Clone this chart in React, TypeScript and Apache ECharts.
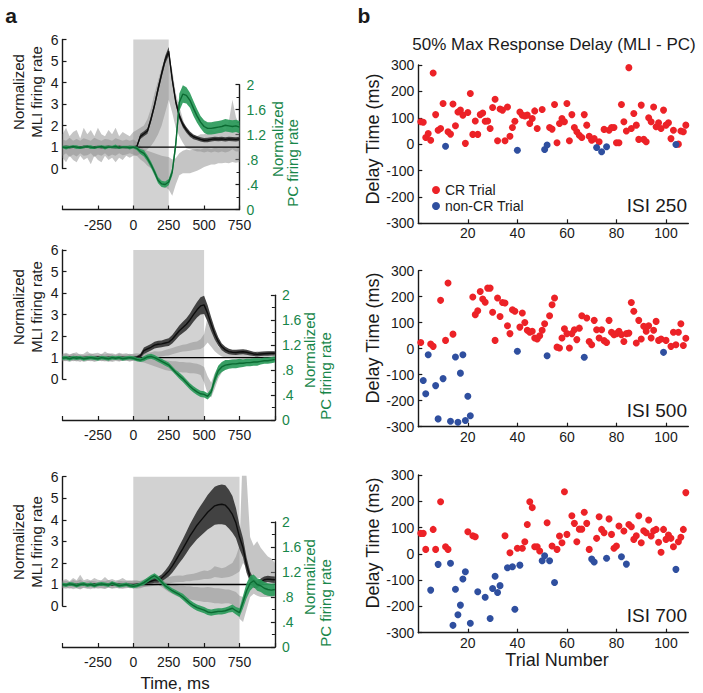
import React, { useEffect, useRef } from "react";
import * as echarts from "echarts";

// ---------------- time bases (ms) ----------------
const T_TOP = [-500,-475,-450,-425,-400,-375,-350,-325,-300,-275,-250,-225,-200,-175,-150,-125,-100,-75,-50,-25,0,25,50,75,100,125,150,175,200,225,250,275,300,325,350,375,400,425,450,475,500,525,550,575,600,625,650,675,700,725,750];
const T_LONG = [-500,-475,-450,-425,-400,-375,-350,-325,-300,-275,-250,-225,-200,-175,-150,-125,-100,-75,-50,-25,0,25,50,75,100,125,150,175,200,225,250,275,300,325,350,375,400,425,450,475,500,525,550,575,600,625,650,675,700,725,750,775,800,825,850,875,900,925,950,975,1000];

// ---------------- ISI 250 (top) ----------------
const TOP_MLI_CR = [1.00,1.02,0.99,1.01,1.00,0.98,1.01,1.02,0.99,1.00,1.01,0.99,1.00,1.02,1.00,0.99,1.01,1.00,0.99,1.01,1.00,1.03,1.50,1.62,1.75,2.30,2.95,3.70,4.40,5.05,5.45,4.15,3.10,2.45,2.05,1.80,1.60,1.48,1.42,1.36,1.32,1.33,1.36,1.38,1.37,1.38,1.36,1.38,1.37,1.36,1.38];
const TOP_MLI_SEM = [0.05,0.05,0.06,0.05,0.05,0.05,0.06,0.05,0.05,0.05,0.05,0.06,0.05,0.05,0.05,0.05,0.06,0.05,0.05,0.05,0.05,0.06,0.12,0.12,0.13,0.14,0.15,0.16,0.17,0.18,0.2,0.18,0.16,0.15,0.14,0.13,0.12,0.11,0.1,0.1,0.1,0.1,0.1,0.1,0.1,0.1,0.1,0.1,0.1,0.1,0.1];
const TOP_PC_CR = [1.00,0.99,1.00,1.01,1.00,0.99,1.00,1.01,1.00,0.99,1.00,1.01,0.99,1.00,1.00,1.01,0.99,1.00,1.00,0.99,1.00,0.98,0.93,0.90,0.82,0.72,0.60,0.47,0.41,0.40,0.44,0.60,1.05,1.72,1.85,1.83,1.75,1.62,1.50,1.40,1.33,1.30,1.30,1.31,1.32,1.33,1.35,1.34,1.33,1.34,1.32];
const TOP_PC_SEM = [0.02,0.03,0.02,0.02,0.03,0.02,0.02,0.02,0.03,0.02,0.02,0.02,0.03,0.02,0.02,0.03,0.02,0.02,0.02,0.03,0.02,0.03,0.04,0.05,0.05,0.05,0.05,0.05,0.05,0.05,0.05,0.06,0.1,0.14,0.14,0.13,0.12,0.12,0.11,0.1,0.1,0.1,0.1,0.1,0.1,0.1,0.1,0.1,0.1,0.1,0.1];
const TOP_MLI_NON_LO = [0.5,0.3,0.6,0.4,0.3,0.6,0.4,0.5,0.2,0.6,0.4,0.3,0.6,0.4,0.5,0.3,0.5,0.4,0.6,0.5,0.6,0.6,0.7,0.8,0.9,1.05,1.3,1.6,2.0,2.6,3.2,2.6,1.9,1.5,1.2,0.95,0.9,0.85,0.8,0.8,0.75,0.8,0.75,0.8,0.75,0.8,0.75,0.8,0.9,0.8,0.8];
const TOP_MLI_NON_HI = [1.6,1.9,1.5,1.7,1.8,1.4,1.9,1.6,1.8,1.5,1.9,1.6,1.5,1.8,1.6,1.9,1.5,1.7,1.6,1.5,1.7,1.8,1.9,2.0,2.3,2.8,3.5,4.1,4.7,5.1,5.3,4.6,3.5,2.9,2.3,1.8,1.6,1.5,1.5,1.6,1.6,1.7,1.8,1.7,1.8,1.9,1.8,2.2,3.2,2.4,2.0];
const TOP_PC_NON_LO = [0.86,0.9,0.84,0.88,0.85,0.9,0.86,0.87,0.9,0.84,0.88,0.86,0.9,0.85,0.88,0.86,0.9,0.87,0.88,0.9,0.88,0.86,0.8,0.76,0.7,0.66,0.6,0.52,0.42,0.36,0.32,0.22,0.4,0.55,0.58,0.58,0.58,0.6,0.62,0.65,0.68,0.7,0.72,0.72,0.74,0.74,0.75,0.74,0.76,0.75,0.76];
const TOP_PC_NON_HI = [1.12,1.1,1.15,1.1,1.13,1.1,1.14,1.12,1.1,1.15,1.12,1.1,1.13,1.12,1.1,1.14,1.12,1.1,1.12,1.1,1.12,1.08,1.02,0.96,0.94,0.92,0.9,0.88,0.86,0.85,0.84,0.8,0.82,0.9,0.94,0.96,0.95,0.96,0.97,0.96,0.98,0.98,0.97,0.99,0.98,0.98,0.99,0.98,0.99,0.98,0.99];

// ---------------- ISI 500 (middle) ----------------
const MID_MLI_CR = [1.0,0.99,1.01,1.0,1.02,0.98,1.0,1.01,0.99,1.0,1.02,1.0,0.99,1.01,1.0,0.98,1.0,1.01,1.0,0.99,1.0,1.02,1.08,1.32,1.40,1.48,1.58,1.62,1.64,1.68,1.72,1.85,2.05,2.25,2.40,2.55,2.75,3.00,3.22,3.40,3.45,3.05,2.55,2.10,1.75,1.50,1.36,1.28,1.25,1.24,1.26,1.27,1.25,1.21,1.17,1.15,1.17,1.18,1.19,1.20,1.20];
const MID_MLI_SEM = [0.04,0.04,0.05,0.04,0.04,0.04,0.05,0.04,0.04,0.04,0.04,0.05,0.04,0.04,0.04,0.04,0.05,0.04,0.04,0.04,0.04,0.05,0.1,0.15,0.15,0.15,0.16,0.16,0.16,0.17,0.18,0.2,0.22,0.24,0.26,0.28,0.3,0.33,0.36,0.4,0.42,0.38,0.32,0.26,0.2,0.16,0.14,0.13,0.12,0.12,0.12,0.12,0.12,0.11,0.1,0.1,0.1,0.1,0.1,0.1,0.1];
const MID_PC_CR = [0.99,1.0,0.98,1.0,0.99,1.0,0.98,0.99,1.0,0.99,0.98,1.0,0.99,0.98,1.0,0.99,1.0,0.98,0.99,1.0,0.99,0.97,0.96,0.98,1.01,1.02,1.0,0.97,0.94,0.91,0.88,0.82,0.76,0.71,0.66,0.60,0.54,0.49,0.45,0.42,0.41,0.38,0.45,0.65,0.79,0.85,0.88,0.89,0.9,0.9,0.91,0.91,0.92,0.92,0.93,0.93,0.94,0.95,0.95,0.96,0.97];
const MID_PC_SEM = [0.03,0.03,0.03,0.03,0.03,0.03,0.03,0.03,0.03,0.03,0.03,0.03,0.03,0.03,0.03,0.03,0.03,0.03,0.03,0.03,0.03,0.03,0.03,0.04,0.04,0.04,0.04,0.04,0.04,0.04,0.04,0.04,0.04,0.05,0.05,0.05,0.05,0.05,0.05,0.05,0.05,0.05,0.06,0.08,0.08,0.08,0.08,0.07,0.07,0.07,0.07,0.06,0.06,0.06,0.06,0.06,0.05,0.05,0.05,0.05,0.05];
const MID_MLI_NON_LO = [0.82,0.85,0.8,0.86,0.82,0.88,0.8,0.84,0.86,0.8,0.84,0.85,0.82,0.86,0.8,0.84,0.82,0.86,0.85,0.82,0.85,0.88,0.9,0.92,0.95,0.98,1.0,1.02,1.05,1.08,1.1,1.15,1.2,1.25,1.28,1.3,1.32,1.35,1.38,1.4,1.5,1.7,1.5,1.3,1.15,1.05,1.0,1.0,0.98,1.0,0.98,1.0,0.98,1.0,0.98,1.0,0.98,1.0,0.98,1.0,0.98];
const MID_MLI_NON_HI = [1.18,1.22,1.15,1.2,1.25,1.12,1.18,1.3,1.15,1.2,1.22,1.16,1.28,1.18,1.2,1.15,1.22,1.18,1.2,1.15,1.18,1.2,1.18,1.2,1.22,1.25,1.3,1.28,1.3,1.35,1.4,1.45,1.5,1.55,1.6,1.62,1.68,1.72,1.75,1.85,2.1,2.9,2.5,1.9,1.5,1.35,1.3,1.32,1.3,1.28,1.3,1.32,1.3,1.28,1.25,1.3,1.28,1.3,1.28,1.3,1.28];
const MID_PC_NON_LO = [0.95,0.94,0.96,0.94,0.95,0.93,0.96,0.95,0.94,0.95,0.96,0.94,0.95,0.93,0.95,0.96,0.94,0.95,0.95,0.94,0.95,0.94,0.93,0.92,0.9,0.88,0.86,0.84,0.82,0.8,0.79,0.78,0.77,0.77,0.76,0.76,0.75,0.75,0.74,0.72,0.6,0.42,0.36,0.5,0.66,0.76,0.82,0.85,0.87,0.88,0.89,0.9,0.9,0.91,0.91,0.92,0.92,0.92,0.93,0.93,0.93];
const MID_PC_NON_HI = [1.05,1.06,1.04,1.07,1.05,1.06,1.04,1.05,1.07,1.05,1.04,1.06,1.05,1.07,1.05,1.04,1.06,1.05,1.05,1.06,1.05,1.04,1.03,1.02,1.01,1.0,0.99,0.98,0.97,0.96,0.95,0.94,0.94,0.93,0.93,0.92,0.92,0.91,0.9,0.88,0.85,0.7,0.6,0.75,0.86,0.92,0.95,0.96,0.97,0.98,0.98,0.99,0.99,0.99,1.0,1.0,1.0,1.0,1.0,1.0,1.0];

// ---------------- ISI 750 (bottom) ----------------
const BOT_MLI_CR = [1.0,0.98,1.01,1.0,0.99,1.02,1.0,0.98,1.0,1.01,0.99,1.0,1.02,1.0,0.99,1.01,1.0,0.98,1.0,0.99,0.98,1.0,1.02,1.05,1.1,1.15,1.2,1.22,1.3,1.45,1.62,1.85,2.12,2.4,2.66,2.95,3.25,3.5,3.75,3.95,4.15,4.35,4.5,4.65,4.7,4.72,4.68,4.5,4.25,3.85,3.2,2.7,1.9,1.35,1.05,1.0,1.12,1.22,1.25,1.23,1.22];
const BOT_MLI_SEM = [0.04,0.04,0.05,0.04,0.04,0.04,0.05,0.04,0.04,0.04,0.04,0.05,0.04,0.04,0.04,0.04,0.05,0.04,0.04,0.04,0.04,0.04,0.05,0.06,0.08,0.1,0.12,0.14,0.16,0.2,0.25,0.3,0.35,0.4,0.45,0.5,0.55,0.6,0.65,0.7,0.75,0.8,0.85,0.88,0.9,0.92,0.92,0.9,0.85,0.7,0.55,0.45,0.35,0.25,0.2,0.18,0.16,0.15,0.15,0.15,0.15];
const BOT_PC_CR = [1.0,0.99,1.01,1.0,0.98,1.0,1.01,0.99,1.0,0.98,1.0,1.01,1.0,0.99,1.02,1.0,0.98,0.99,1.0,0.98,0.97,0.98,1.0,1.03,1.07,1.11,1.14,1.1,1.04,0.98,0.94,0.9,0.87,0.84,0.8,0.75,0.7,0.66,0.63,0.61,0.59,0.56,0.55,0.56,0.57,0.57,0.58,0.6,0.62,0.58,0.55,0.72,0.9,1.02,1.06,1.0,0.98,0.94,0.92,0.91,0.92];
const BOT_PC_SEM = [0.03,0.03,0.03,0.03,0.03,0.03,0.03,0.03,0.03,0.03,0.03,0.03,0.03,0.03,0.03,0.03,0.03,0.03,0.03,0.03,0.03,0.03,0.03,0.04,0.04,0.04,0.04,0.04,0.04,0.04,0.04,0.04,0.04,0.04,0.05,0.05,0.05,0.05,0.05,0.05,0.05,0.05,0.05,0.05,0.05,0.05,0.05,0.05,0.06,0.06,0.07,0.1,0.12,0.12,0.1,0.1,0.1,0.1,0.1,0.1,0.1];
const BOT_MLI_NON_LO = [0.82,0.8,0.85,0.78,0.82,0.8,0.84,0.8,0.78,0.85,0.8,0.82,0.8,0.85,0.8,0.82,0.85,0.8,0.82,0.85,0.82,0.85,0.86,0.88,0.9,0.92,0.95,0.98,1.0,1.02,1.05,1.08,1.1,1.12,1.12,1.15,1.15,1.18,1.2,1.22,1.25,1.25,1.28,1.35,1.32,1.3,1.32,1.35,1.4,1.5,1.6,2.0,1.8,1.3,1.2,1.3,1.3,1.25,1.2,1.2,1.15];
const BOT_MLI_NON_HI = [1.2,1.25,1.15,1.3,1.2,1.45,1.2,1.25,1.18,1.3,1.22,1.2,1.35,1.2,1.25,1.18,1.22,1.3,1.2,1.18,1.2,1.2,1.15,1.18,1.22,1.25,1.3,1.32,1.3,1.32,1.35,1.38,1.4,1.42,1.4,1.45,1.48,1.5,1.55,1.6,1.65,1.62,1.7,1.85,1.8,1.75,1.8,1.9,2.0,2.3,2.8,7.5,6.0,3.2,2.8,3.0,2.7,2.5,2.3,2.2,2.0];
const BOT_PC_NON_LO = [0.94,0.95,0.93,0.95,0.94,0.92,0.95,0.94,0.95,0.93,0.95,0.94,0.93,0.95,0.94,0.95,0.93,0.94,0.95,0.94,0.94,0.93,0.94,0.96,0.98,1.0,1.02,1.0,0.96,0.92,0.88,0.85,0.82,0.8,0.78,0.77,0.76,0.75,0.74,0.73,0.72,0.72,0.71,0.7,0.7,0.69,0.7,0.7,0.68,0.62,0.45,0.4,0.6,0.8,0.85,0.82,0.8,0.8,0.8,0.8,0.8];
const BOT_PC_NON_HI = [1.05,1.06,1.04,1.07,1.05,1.08,1.04,1.05,1.06,1.05,1.04,1.06,1.05,1.07,1.05,1.04,1.06,1.05,1.05,1.06,1.05,1.05,1.06,1.08,1.1,1.12,1.14,1.12,1.08,1.04,1.02,1.0,0.99,0.98,0.98,0.97,0.97,0.96,0.96,0.95,0.95,0.96,0.95,0.94,0.94,0.93,0.92,0.92,0.9,0.88,0.82,0.8,0.9,1.0,1.02,1.0,0.98,0.98,0.97,0.97,0.97];

// ---------------- scatter: [trial, delay ms] ----------------
const CR_250 = [[1,85],[2,83],[3,25],[4,40],[5,15],[6,270],[7,112],[8,53],[9,59],[10,154],[12,47],[13,38],[14,152],[15,70],[16,122],[17,129],[18,110],[19,3],[20,120],[21,192],[22,37],[23,88],[24,37],[25,112],[26,118],[27,87],[28,88],[29,59],[30,139],[31,170],[32,13],[33,133],[34,129],[35,13],[36,141],[37,30],[38,63],[39,87],[41,122],[42,110],[43,107],[44,110],[45,78],[46,97],[47,126],[48,59],[50,131],[53,63],[54,57],[55,150],[56,5],[57,78],[58,97],[59,85],[60,154],[61,13],[62,112],[63,63],[64,47],[65,34],[66,25],[67,112],[68,72],[69,30],[70,15],[71,21],[73,9],[75,56],[77,53],[78,63],[79,63],[80,5],[81,5],[82,150],[83,85],[84,50],[85,290],[86,59],[87,116],[88,72],[89,18],[90,148],[91,18],[92,9],[93,100],[94,85],[95,141],[96,66],[97,81],[98,59],[99,129],[100,72],[101,81],[102,21],[103,53],[105,0],[106,50],[107,47],[108,72]];
const NON_250 = [[11,-8],[40,-23],[51,-20],[52,-3],[72,-13],[74,-29],[76,-10],[104,-1]];
const CR_500 = [[1,24],[5,18],[6,9],[9,186],[11,32],[12,253],[14,56],[22,199],[23,131],[24,146],[25,220],[26,191],[27,179],[28,233],[29,233],[30,140],[31,32],[32,195],[33,124],[34,178],[35,176],[36,88],[37,58],[38,150],[39,144],[41,83],[42,137],[43,101],[44,71],[45,63],[46,67],[47,41],[48,37],[49,50],[50,71],[51,96],[53,127],[54,169],[55,195],[56,6],[57,3],[58,41],[59,77],[60,58],[61,3],[62,58],[63,73],[64,35],[65,79],[66,127],[68,118],[69,28],[70,15],[71,109],[72,73],[73,41],[74,73],[75,31],[76,24],[77,109],[78,63],[79,54],[80,58],[81,67],[82,54],[83,28],[84,58],[85,60],[86,178],[87,144],[88,22],[89,109],[90,37],[91,86],[92,67],[93,88],[94,41],[95,71],[96,105],[97,32],[98,37],[100,32],[102,9],[103,63],[104,15],[105,63],[106,96],[107,12],[108,40]];
const NON_500 = [[2,-122],[3,-173],[4,-23],[7,-142],[8,-270],[10,-115],[13,-279],[15,-32],[16,-283],[17,-94],[18,-23],[19,-276],[20,-183],[21,-258],[40,-10],[52,-27],[67,-33],[99,-14]];
const CR_700 = [[1,78],[2,78],[3,17],[6,93],[7,17],[9,198],[11,27],[12,17],[20,84],[22,69],[23,65],[35,69],[37,4],[40,21],[42,21],[43,46],[44,112],[45,198],[46,176],[47,27],[48,27],[49,11],[52,118],[54,30],[56,17],[57,68],[58,42],[59,236],[60,74],[62,145],[63,116],[64,46],[65,94],[66,94],[67,158],[68,116],[69,17],[72,59],[73,141],[74,93],[75,80],[77,133],[78,74],[79,21],[80,30],[81,106],[83,87],[85,112],[86,103],[87,55],[88,69],[89,145],[90,42],[91,88],[92,80],[93,129],[94,68],[95,88],[96,93],[97,44],[98,6],[99,93],[100,55],[101,72],[102,59],[103,27],[105,46],[106,63],[107,93],[108,233]];
const NON_700 = [[5,-138],[8,-40],[13,-36],[14,-272],[15,-135],[16,-232],[17,-195],[18,-96],[19,-68],[21,-264],[24,-144],[27,-165],[29,-246],[30,-132],[31,-85],[32,-147],[33,-121],[36,-53],[38,-49],[39,-211],[41,-43],[50,-26],[51,-7],[53,-26],[55,-109],[70,-20],[71,-31],[76,-17],[82,-11],[84,-39],[104,-59]];

const ISI_LABELS = ["ISI 250", "ISI 500", "ISI 700"];
const BASELINE = 1;

// ---------------- styling / layout ----------------
const FONT = "'Liberation Sans', Arial, Helvetica, sans-serif";
const INK = "#1a1a1a";
const GREEN_TXT = "#17864a";
const RED = "#ec2227";
const BLUE = "#2f4f9f";
const MLI_FLOOR = -1.9;
const LX = 62.5;

const LEFT_PANELS = [
  { T: T_TOP, isi: 250, mliCR: TOP_MLI_CR, mliSem: TOP_MLI_SEM, pcCR: TOP_PC_CR, pcSem: TOP_PC_SEM, mliLo: TOP_MLI_NON_LO, mliHi: TOP_MLI_NON_HI, pcLo: TOP_PC_NON_LO, pcHi: TOP_PC_NON_HI, top6: 39.5, axisY: 209.5, width: 177, nameY: 92, gx: [277, 292], gy: [139, 163] },
  { T: T_LONG, isi: 500, mliCR: MID_MLI_CR, mliSem: MID_MLI_SEM, pcCR: MID_PC_CR, pcSem: MID_PC_SEM, mliLo: MID_MLI_NON_LO, mliHi: MID_MLI_NON_HI, pcLo: MID_PC_NON_LO, pcHi: MID_PC_NON_HI, top6: 250, axisY: 420, width: 212.4, nameY: 307, gx: [309, 325], gy: [350, 376] },
  { T: T_LONG, isi: 750, mliCR: BOT_MLI_CR, mliSem: BOT_MLI_SEM, pcCR: BOT_PC_CR, pcSem: BOT_PC_SEM, mliLo: BOT_MLI_NON_LO, mliHi: BOT_MLI_NON_HI, pcLo: BOT_PC_NON_LO, pcHi: BOT_PC_NON_HI, top6: 476.7, axisY: 647, width: 212.4, nameY: 542, gx: [309, 325], gy: [577, 603] },
];

const RIGHT_PANELS = [
  { cr: CR_250, non: NON_250, top: 65, height: 158.3, nameY: 139, isiY: 205 },
  { cr: CR_500, non: NON_500, top: 270.7, height: 156, nameY: 338, isiY: 410 },
  { cr: CR_700, non: NON_700, top: 475, height: 157.7, nameY: 543, isiY: 615 },
];

function txt(text: string, x: number, y: number, size: number, opts: any = {}) {
  return {
    type: "text",
    x,
    y,
    rotation: opts.rotate ? Math.PI / 2 : 0,
    silent: true,
    style: {
      text,
      fontSize: size,
      fontFamily: FONT,
      fontWeight: opts.bold ? "bold" : "normal",
      fill: opts.color || INK,
      align: opts.align || "center",
      verticalAlign: "middle",
    },
  };
}

function band(stackId: string, xi: number, lo: number[], hi: number[], color: string, opacity: number, z: number) {
  return [
    { type: "line", xAxisIndex: xi, yAxisIndex: xi, stack: stackId, data: lo, symbol: "none", silent: true, lineStyle: { opacity: 0 }, z },
    { type: "line", xAxisIndex: xi, yAxisIndex: xi, stack: stackId, data: hi.map((h, i) => h - lo[i]), symbol: "none", silent: true, lineStyle: { opacity: 0 }, areaStyle: { color, opacity }, z },
  ];
}

function greenFmt(v: number) {
  if (v === 0) return "0";
  const s = String(+v.toFixed(1));
  return s.startsWith("0") ? s.slice(1) : s;
}

function buildOption() {
  const grid: any[] = [];
  const xAxis: any[] = [];
  const yAxis: any[] = [];
  const series: any[] = [];
  const graphic: any[] = [];
  const axisLineStyle = { color: INK, width: 1.4 };
  const labelStyle = { fontSize: 14, fontFamily: FONT, color: INK };

  LEFT_PANELS.forEach((p, k) => {
    const H = p.axisY - p.top6;
    const px = H / (6 - MLI_FLOOR);
    const y1 = p.top6 + 5 * px;
    const gH = 2 * (p.axisY - y1);
    const A = grid.length;
    grid.push({ left: LX, top: p.top6, width: p.width, height: H });
    grid.push({ left: LX, top: p.top6, width: p.width, height: 6 * px });
    grid.push({ left: LX, top: p.axisY - gH, width: p.width, height: gH });
    const cats = p.T.map(String);
    xAxis.push({
      gridIndex: A, type: "category", data: cats, boundaryGap: false, z: 10,
      axisLine: { onZero: false, lineStyle: axisLineStyle },
      axisTick: { show: true, inside: true, length: 4, interval: 9, lineStyle: { color: INK, width: 1.2 } },
      axisLabel: { ...labelStyle, interval: 9, margin: 8, formatter: (v: string) => (v === "-500" || v === "1000" ? "" : v) },
      splitLine: { show: false },
    });
    xAxis.push({ gridIndex: A + 1, type: "category", data: cats, boundaryGap: false, show: false });
    xAxis.push({ gridIndex: A + 2, type: "category", data: cats, boundaryGap: false, show: false });
    yAxis.push({ gridIndex: A, type: "value", min: MLI_FLOOR, max: 6, show: false });
    yAxis.push({
      gridIndex: A + 1, type: "value", min: 0, max: 6, interval: 1,
      axisLine: { show: true, onZero: false, lineStyle: axisLineStyle },
      axisTick: { show: true, inside: true, length: 4, lineStyle: { color: INK, width: 1.2 } },
      axisLabel: { ...labelStyle, margin: 4 },
      splitLine: { show: false },
    });
    yAxis.push({
      gridIndex: A + 2, type: "value", position: "right", min: 0, max: 2, interval: 0.4,
      axisLine: { show: true, onZero: false, lineStyle: axisLineStyle },
      axisTick: { show: true, inside: true, length: 4, lineStyle: { color: INK, width: 1.2 } },
      minorTick: { show: true, splitNumber: 2, length: 3, lineStyle: { color: INK, width: 1 } },
      axisLabel: { ...labelStyle, color: GREEN_TXT, margin: 7, formatter: greenFmt },
      splitLine: { show: false },
    });

    // gray non-CR bands
    series.push(...band(`mliNon${k}`, A, p.mliLo, p.mliHi, "#8c8c8c", 0.5, 2));
    series.push(...band(`pcNon${k}`, A + 2, p.pcLo, p.pcHi, "#8c8c8c", 0.5, 2));
    // baseline line + shaded CS-US interval
    series.push({
      type: "line", xAxisIndex: A, yAxisIndex: A, data: p.T.map(() => BASELINE), symbol: "none", silent: true,
      lineStyle: { color: "#000", width: 1.3 }, z: 3,
      markArea: { silent: true, itemStyle: { color: "#d2d2d2" }, data: [[{ xAxis: "0" }, { xAxis: String(p.isi) }]] },
    });
    // MLI CR (black)
    const mLo = p.mliCR.map((m, i) => m - p.mliSem[i]);
    const mHi = p.mliCR.map((m, i) => m + p.mliSem[i]);
    series.push(...band(`mli${k}`, A, mLo, mHi, "#3a3a3a", 0.95, 4));
    series.push({ type: "line", xAxisIndex: A, yAxisIndex: A, data: p.mliCR, symbol: "none", silent: true, lineStyle: { color: "#0d0d0d", width: 1.4 }, z: 5 });
    // PC CR (green)
    const gLo = p.pcCR.map((m, i) => m - p.pcSem[i]);
    const gHi = p.pcCR.map((m, i) => m + p.pcSem[i]);
    series.push(...band(`pc${k}`, A + 2, gLo, gHi, "#2a9a5a", 0.92, 6));
    series.push({ type: "line", xAxisIndex: A + 2, yAxisIndex: A + 2, data: p.pcCR, symbol: "none", silent: true, lineStyle: { color: "#0b6a32", width: 1.4 }, z: 7 });

    graphic.push(txt("Normalized", 18, p.nameY, 15, { rotate: true }));
    graphic.push(txt("MLI firing rate", 36, p.nameY, 15, { rotate: true }));
    graphic.push(txt("Normalized", p.gx[0], p.gy[0], 15, { rotate: true, color: GREEN_TXT }));
    graphic.push(txt("PC firing rate", p.gx[1], p.gy[1], 15, { rotate: true, color: GREEN_TXT }));
  });

  RIGHT_PANELS.forEach((p, k) => {
    const g = grid.length;
    grid.push({ left: 418.3, top: p.top, width: 270, height: p.height });
    xAxis.push({
      gridIndex: g, type: "value", min: 0, max: 109, interval: 20,
      axisLine: { onZero: false, lineStyle: axisLineStyle },
      axisTick: { show: true, inside: true, length: 4, lineStyle: { color: INK, width: 1.2 } },
      axisLabel: { ...labelStyle, margin: 3, showMinLabel: false, showMaxLabel: false, formatter: (v: number) => (v > 0 && v % 20 === 0 ? String(v) : "") },
      splitLine: { show: false },
    });
    yAxis.push({
      gridIndex: g, type: "value", min: -300, max: 300, interval: 100,
      axisLine: { show: true, onZero: false, lineStyle: axisLineStyle },
      axisTick: { show: true, inside: true, length: 4, lineStyle: { color: INK, width: 1.2 } },
      axisLabel: { ...labelStyle, margin: 4 },
      splitLine: { show: false },
    });
    series.push({ name: "CR Trial", type: "scatter", xAxisIndex: g, yAxisIndex: g, data: p.cr, symbolSize: 7, itemStyle: { color: RED, opacity: 1 }, z: 3, silent: true });
    series.push({ name: "non-CR Trial", type: "scatter", xAxisIndex: g, yAxisIndex: g, data: p.non, symbolSize: 7, itemStyle: { color: BLUE, opacity: 1 }, z: 3, silent: true });
    graphic.push(txt("Delay Time (ms)", 373, p.nameY, 18, { rotate: true }));
    graphic.push(txt(ISI_LABELS[k], 687, p.isiY, 19, { align: "right" }));
  });

  graphic.push(txt("a", 11, 15, 21, { bold: true }));
  graphic.push(txt("b", 364, 15, 21, { bold: true }));
  graphic.push(txt("50% Max Response Delay (MLI - PC)", 554, 44, 17));
  graphic.push(txt("Time, ms", 175, 683, 17));
  graphic.push(txt("Trial Number", 557, 660, 18));

  return {
    animation: false,
    backgroundColor: "#ffffff",
    textStyle: { fontFamily: FONT },
    grid,
    xAxis,
    yAxis,
    series,
    graphic,
    legend: {
      data: ["CR Trial", "non-CR Trial"],
      orient: "vertical",
      left: 432,
      top: 183,
      padding: 0,
      itemWidth: 8,
      itemHeight: 8,
      itemGap: 2,
      icon: "circle",
      selectedMode: false,
      textStyle: { fontSize: 14, fontFamily: FONT, color: INK },
    },
  };
}

export default function App() {
  const ref = useRef<HTMLDivElement>(null);
  useEffect(() => {
    if (!ref.current) return;
    const chart = echarts.init(ref.current, null, { renderer: "svg" });
    chart.setOption(buildOption() as any);
    return () => chart.dispose();
  }, []);
  return <div ref={ref} style={{ position: "absolute", left: 0, top: 0, width: 703, height: 693 }} />;
}
